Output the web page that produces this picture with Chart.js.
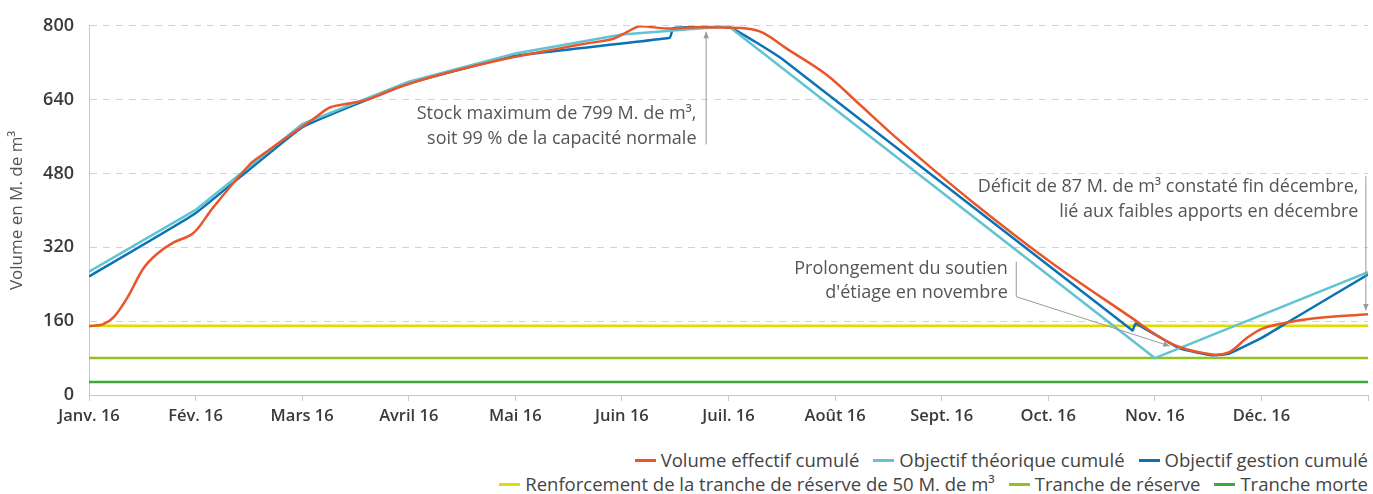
<!DOCTYPE html>
<html>
<head>
<meta charset="utf-8">
<script src="https://cdn.jsdelivr.net/npm/chart.js@4.4.0/dist/chart.umd.min.js"></script>
<style>
  body { margin: 0; background: #fff; font-family: "Open Sans", sans-serif; overflow: hidden; }
  #wrap { position: relative; width: 1373px; height: 440px; }
  #legend { position: absolute; top: 448px; right: 5px; color: #444; font-size: 18.5px; line-height: 22px; }
  #legend .row { display: flex; justify-content: flex-end; height: 24px; align-items: center; }
  #legend .item { display: flex; align-items: center; margin-left: 14px; }
  #legend .sw { width: 21px; height: 3px; margin-right: 5px; }
</style>
</head>
<body>
<div id="wrap"><canvas id="chart"></canvas></div>
<div id="legend"></div>
<script>
// mois (0 = 1er janvier, 12 = 31 decembre)
var monthLabels = ["Janv. 16", "Fév. 16", "Mars 16", "Avril 16", "Mai 16", "Juin 16",
                   "Juil. 16", "Août 16", "Sept. 16", "Oct. 16", "Nov. 16", "Déc. 16"]

var effectifX = [0, 0.13, 0.23, 0.36, 0.51, 0.64, 0.79, 0.98, 1.16, 1.51, 1.63, 1.76, 1.98, 2.14, 2.26, 2.45,
                 2.61, 2.92, 3.29, 3.92, 4.39, 4.70, 4.92, 5.05, 5.17, 5.42, 5.70, 5.98, 6.17, 6.32, 6.55,
                 6.92, 7.20, 7.61, 8.28, 9.04, 9.79, 10.02, 10.23, 10.54, 10.70, 10.86, 11.01, 11.24, 11.48, 12]
var effectifY = [149, 153, 168, 211, 274, 306, 330, 351, 405, 500, 521, 543, 578, 604, 623, 632,
                 640, 668, 694, 729, 750, 763, 772, 787, 799, 794, 797, 796, 794, 785, 750,
                 694, 636, 550, 420, 285, 166, 129, 104, 88, 93, 123, 144, 157, 166, 175]

var theoriqueX = [0, 1, 2, 3, 4, 5, 6, 10, 12]
var theoriqueY = [267, 401, 587, 679, 740, 781, 799, 80, 266]

var gestionX = [0, 1, 2, 3, 4, 5.45, 5.48, 6, 6.51, 9.79, 9.82, 10.23, 10.54, 10.70, 11.01, 11.33, 12]
var gestionY = [257, 394, 580, 675, 735, 774, 795, 798, 727, 140, 155, 101, 86, 90, 125, 169, 261]

var renforcement = 150
var trancheReserve = 80
var trancheMorte = 28

function pts(xs, ys) {
    return xs.map(function (x, i) { return {x: x, y: ys[i]} })
}
function flat(v) {
    return [{x: 0, y: v}, {x: 12, y: v}]
}

var notes = [
    {lines: ["Stock maximum de 799 M. de m³,", "soit 99 % de la capacité normale"], x: 5.70, y: [610, 556],
     arrow: [[5.79, 543], [5.79, 787]]},
    {lines: ["Déficit de 87 M. de m³ constaté fin décembre,", "lié aux faibles apports en décembre"], x: 11.91, y: [451, 397],
     arrow: [[11.98, 474], [11.98, 183]]},
    {lines: ["Prolongement du soutien", "d'étiage en novembre"], x: 8.62, y: [274, 222],
     arrow: [[8.70, 289], [8.70, 213], [10.14, 106]]}
]

var notesPlugin = {
    id: "notes",
    afterDatasetsDraw: function (chart) {
        var ctx = chart.ctx, sx = chart.scales.x, sy = chart.scales.y
        ctx.save()
        ctx.font = "18px 'Open Sans'"
        ctx.textAlign = "right"
        ctx.textBaseline = "middle"
        notes.forEach(function (n) {
            ctx.fillStyle = "#555"
            n.lines.forEach(function (l, i) {
                ctx.fillText(l, sx.getPixelForValue(n.x), sy.getPixelForValue(n.y[i]))
            })
            var p = n.arrow.map(function (a) { return [sx.getPixelForValue(a[0]), sy.getPixelForValue(a[1])] })
            ctx.strokeStyle = "#999"
            ctx.fillStyle = "#999"
            ctx.lineWidth = 1
            ctx.beginPath()
            ctx.moveTo(p[0][0], p[0][1])
            for (var i = 1; i < p.length; i++) ctx.lineTo(p[i][0], p[i][1])
            ctx.stroke()
            var a = p[p.length - 1], b = p[p.length - 2]
            var ang = Math.atan2(a[1] - b[1], a[0] - b[0])
            ctx.beginPath()
            ctx.moveTo(a[0], a[1])
            ctx.lineTo(a[0] - 7 * Math.cos(ang - 0.4), a[1] - 7 * Math.sin(ang - 0.4))
            ctx.lineTo(a[0] - 7 * Math.cos(ang + 0.4), a[1] - 7 * Math.sin(ang + 0.4))
            ctx.closePath()
            ctx.fill()
        })
        ctx.restore()
    }
}

var chart = new Chart(document.getElementById("chart"), {
    type: "line",
    data: {
        datasets: [
            {label: "Volume effectif cumulé", data: pts(effectifX, effectifY), borderColor: "#e9562b", borderWidth: 2.5, tension: 0.35},
            {label: "Objectif théorique cumulé", data: pts(theoriqueX, theoriqueY), borderColor: "#62c4d1", borderWidth: 2.5, tension: 0},
            {label: "Objectif gestion cumulé", data: pts(gestionX, gestionY), borderColor: "#0b72b5", borderWidth: 2.5, tension: 0.1},
            {label: "Renforcement de la tranche de réserve de 50 M. de m³", data: flat(renforcement), borderColor: "#e1dc00", borderWidth: 2.5},
            {label: "Tranche de réserve", data: flat(trancheReserve), borderColor: "#95c11f", borderWidth: 2.5},
            {label: "Tranche morte", data: flat(trancheMorte), borderColor: "#3aa935", borderWidth: 2.5}
        ]
    },
    options: {
        responsive: true,
        maintainAspectRatio: false,
        animation: false,
        elements: {point: {radius: 0}},
        layout: {padding: {top: 14, right: 5, left: 0, bottom: 0}},
        plugins: {legend: {display: false}, tooltip: {enabled: false}},
        scales: {
            x: {
                type: "linear", min: 0, max: 12,
                afterFit: function (s) { s.height = 45 },
                ticks: {
                    stepSize: 1, autoSkip: false, maxRotation: 0, padding: 5,
                    color: "#3a3a3a", font: {size: 16.5, weight: "600", family: "'Open Sans'"},
                    callback: function (v) { return monthLabels[v] || "" }
                },
                grid: {drawOnChartArea: false, drawTicks: true, tickLength: 6, color: "#c8c8c8"},
                border: {color: "#c8c8c8"}
            },
            y: {
                min: 0, max: 800,
                afterFit: function (s) { s.width = 89 },
                ticks: {stepSize: 160, padding: 15, color: "#3a3a3a", font: {size: 18, weight: "600", family: "'Open Sans'"}},
                grid: {drawTicks: false, color: function (c) { return c.tick && c.tick.value === 0 ? "rgba(0,0,0,0)" : "#d3d3d3" }},
                border: {color: "#c8c8c8", dash: [7, 6]},
                title: {display: true, text: "Volume en M. de m³", color: "#555", font: {size: 17, family: "'Open Sans'"}, padding: {top: 7, bottom: 0}}
            }
        }
    },
    plugins: [notesPlugin]
})

// legende en deux lignes, alignee a droite
var rows = [[0, 1, 2], [3, 4, 5]]
var legend = document.getElementById("legend")
rows.forEach(function (r) {
    var row = document.createElement("div")
    row.className = "row"
    r.forEach(function (i) {
        var ds = chart.data.datasets[i]
        var it = document.createElement("div")
        it.className = "item"
        it.innerHTML = '<span class="sw" style="background:' + ds.borderColor + '"></span>' + ds.label
        row.appendChild(it)
    })
    legend.appendChild(row)
})
</script>
</body>
</html>
